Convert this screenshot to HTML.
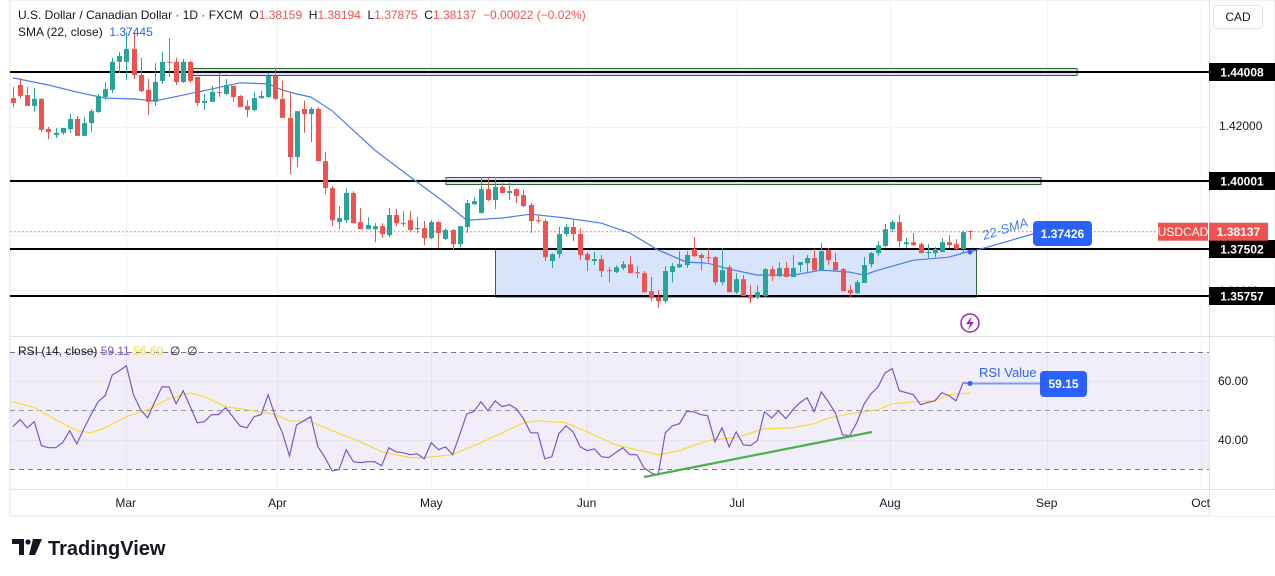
<!DOCTYPE html>
<html><head><meta charset="utf-8">
<style>
html,body{margin:0;padding:0;background:#fff;}
body{width:1275px;height:576px;overflow:hidden;position:relative;font-family:"Liberation Sans",sans-serif;}
svg{position:absolute;left:0;top:0;}
</style></head>
<body>
<svg id="chart" width="1275" height="576" viewBox="0 0 1275 576"></svg>
<script>
// ---- data (prices in pips, i.e. price*10000) ----
const opens=[14305,14353,14316,14276,14302,14191,14169,14177,14191,14228,14166,14213,14254,14309,14335,14438,14438,14486,14390,14335,14291,14368,14438,14438,14364,14438,14383,14287,14291,14327,14320,14350,14313,14276,14261,14305,14309,14386,14302,14232,14088,14265,14246,14265,14073,13974,13849,13856,13956,13849,13823,13823,13834,13801,13875,13845,13856,13823,13827,13790,13849,13787,13820,13768,13831,13915,13882,13970,13930,13978,13956,13970,13948,13912,13856,13853,13706,13731,13805,13831,13805,13731,13706,13713,13672,13665,13680,13694,13665,13661,13595,13573,13558,13665,13683,13691,13750,13728,13720,13720,13628,13683,13591,13639,13580,13573,13577,13676,13650,13680,13647,13691,13698,13717,13672,13746,13702,13676,13599,13588,13625,13694,13735,13761,13823,13849,13768,13775,13768,13735,13735,13739,13775,13768,13750,13815.9];
const highs=[14346,14379,14346,14342,14305,14199,14195,14195,14246,14239,14235,14265,14320,14364,14453,14475,14545,14545,14453,14375,14434,14475,14526,14453,14449,14442,14383,14320,14350,14397,14375,14350,14316,14298,14327,14331,14397,14416,14368,14324,14257,14294,14272,14272,14107,13981,13908,13974,13963,13901,13867,13845,13845,13901,13897,13890,13890,13867,13853,13856,13853,13827,13823,13834,13930,13941,14015,14015,14007,13993,13993,13974,13967,13919,13875,13860,13735,13831,13842,13856,13827,13739,13739,13728,13683,13691,13706,13724,13687,13669,13647,13599,13687,13698,13742,13742,13794,13735,13750,13724,13753,13691,13661,13654,13617,13617,13680,13687,13702,13702,13728,13702,13728,13750,13772,13753,13735,13680,13617,13636,13720,13739,13779,13842,13856,13875,13790,13809,13775,13768,13757,13790,13801,13786,13816,13819.4];
const lows=[14272,14305,14276,14254,14180,14154,14158,14169,14177,14166,14166,14180,14250,14298,14324,14397,14372,14375,14327,14243,14276,14357,14383,14353,14361,14361,14276,14261,14291,14309,14316,14291,14272,14235,14257,14302,14305,14298,14232,14026,14051,14177,14143,14073,13952,13834,13823,13845,13845,13823,13823,13775,13790,13794,13834,13831,13812,13809,13764,13787,13753,13783,13746,13757,13809,13912,13882,13926,13897,13956,13930,13919,13904,13809,13845,13706,13680,13717,13797,13779,13709,13669,13691,13647,13628,13661,13672,13661,13643,13591,13558,13533,13551,13628,13680,13680,13720,13672,13702,13617,13617,13591,13584,13577,13551,13566,13573,13632,13647,13647,13647,13665,13665,13672,13672,13691,13672,13595,13573,13584,13625,13683,13724,13757,13812,13757,13753,13761,13735,13717,13720,13739,13753,13746,13735,13787.5];
const closes=[14287,14313,14276,14302,14188,14180,14177,14195,14228,14166,14213,14257,14313,14338,14438,14460,14486,14390,14331,14291,14364,14438,14434,14364,14438,14368,14287,14294,14327,14324,14353,14309,14272,14261,14305,14313,14386,14302,14232,14088,14257,14246,14265,14073,13974,13856,13864,13956,13845,13823,13838,13834,13805,13875,13845,13843,13820,13827,13790,13849,13809,13820,13768,13834,13919,13926,13970,13930,13978,13956,13963,13945,13908,13853,13853,13720,13731,13805,13831,13805,13728,13709,13713,13669,13669,13683,13694,13661,13663,13591,13569,13558,13669,13687,13694,13728,13724,13717,13717,13628,13672,13591,13639,13577,13569,13591,13676,13650,13680,13647,13680,13702,13717,13672,13742,13709,13672,13595,13588,13628,13691,13735,13764,13823,13849,13779,13775,13764,13735,13739,13750,13775,13764,13750,13812,13813.7];
const smaIdx=[0,5,9,13,17,20,24,28,32,36,38,40,42,45,51,57,61,64,69,73,78,83,87,91,95,98,101,105,110,114,118,120,122,127,132,135];
const smaVals=[14379,14353,14327,14305,14302,14294,14316,14338,14361,14357,14335,14320,14309,14258,14114,13996,13919,13856,13864,13878,13864,13845,13809,13746,13702,13698,13676,13654,13654,13672,13665,13654,13672,13709,13720,13742.6];
const rsiVals=[44.4,46.8,44.0,46.1,37.9,37.2,37.2,38.9,43.0,38.5,43.7,48.5,52.9,55.0,62.1,63.5,65.2,55.3,50.2,47.4,52.9,58.0,58.0,52.2,56.7,51.2,45.7,46.1,48.5,48.5,50.9,47.8,44.7,44.0,47.8,48.5,55.3,47.8,42.3,34.4,45.0,46.4,47.8,37.5,33.8,29.3,29.7,36.5,32.4,32.1,32.4,32.4,31.0,37.2,35.8,35.5,34.8,35.1,33.4,38.9,36.5,37.5,34.8,41.6,48.8,49.5,52.9,49.8,53.2,51.2,51.9,50.5,47.1,42.3,42.3,33.4,34.1,42.0,44.7,42.6,37.5,36.2,36.8,34.1,33.8,35.5,37.2,34.8,34.8,30.3,28.6,27.9,42.3,44.7,45.4,49.5,49.5,48.5,48.1,39.2,44.0,37.5,42.6,38.2,37.9,39.6,49.5,47.4,49.8,47.1,50.2,52.6,54.3,49.5,56.3,52.9,49.1,41.6,41.3,45.7,51.9,55.6,58.0,62.8,64.2,56.7,56.0,55.3,51.9,52.6,53.2,56.0,55.0,53.2,59.4,59.15];
const maIdx=[0,3,6,9,11,13,16,19,22,25,27,30,34,37,39,42,46,49,52,56,58,62,66,69,72,74,78,81,85,88,91,94,98,102,106,110,113,115,118,122,124,127,130,132,135];
const maVals=[52.9,50.9,46.8,43.0,42.3,44.0,47.8,50.2,53.9,55.9,54.6,51.2,49.8,48.5,46.4,46.1,42.0,39.2,35.8,33.8,33.8,34.8,38.9,42.3,45.7,46.4,45.7,42.6,38.2,36.5,34.8,36.2,39.6,40.7,43.7,44.0,45.4,47.4,48.8,50.2,52.2,52.9,53.2,55.3,56.0];
const levels=[1.44008,1.40001,1.37502,1.35757];
const months=["Mar","Apr","May","Jun","Jul","Aug","Sep","Oct"];
const monthIdx=[15.9,37.3,59.0,80.9,102.1,123.7,145.8,167.5];

// ---- axes ----
const X0=13, DX=7.09;
const xAt=i=>X0+i*DX;
const yP=p=>72+(1.44008-p)*2720;
const yPip=v=>yP(v/10000);
const yR=v=>381+(60-v)*2.925;

const NS="http://www.w3.org/2000/svg";
const svg=document.getElementById('chart');
function mk(tag,attrs,parent){const e=document.createElementNS(NS,tag);for(const k in attrs)e.setAttribute(k,attrs[k]);(parent||svg).appendChild(e);return e;}
function txt(s,attrs,parent){const e=mk('text',attrs,parent);e.textContent=s;return e;}

let e;
e=mk('rect',{x:10,y:0,width:1265,height:516,fill:'#fff',stroke:'#e0e3eb'});

const grid=mk('g',{stroke:'#f0f3fa','stroke-width':1});

monthIdx.forEach(m=>{const x=Math.round(xAt(m))+0.5;mk('line',{x1:x,x2:x,y1:0,y2:489},grid);});
[1.44,1.42,1.40,1.38,1.36].forEach(p=>{const y=Math.round(yP(p))+0.5;mk('line',{x1:10,x2:1209,y1:y,y2:y},grid);});
[60,40].forEach(v=>{const y=Math.round(yR(v))+0.5;mk('line',{x1:10,x2:1209,y1:y,y2:y},grid);});
mk('line',{x1:1209.5,x2:1209.5,y1:0,y2:516,stroke:'#e0e3eb'});
mk('line',{x1:10,x2:1275,y1:336.5,y2:336.5,stroke:'#e0e3eb'});
mk('line',{x1:10,x2:1275,y1:489.5,y2:489.5,stroke:'#e0e3eb'});

e=mk('rect',{x:193,y:68.5,width:884,height:7,fill:'#d6e1f5',stroke:'#2e6b2e','stroke-width':1});

e=mk('rect',{x:446,y:177.5,width:595,height:7,fill:'#d6e1f5',stroke:'#2e6b2e','stroke-width':1});

e=mk('rect',{x:495.5,y:249.5,width:481,height:47.5,fill:'#d8e4fb',stroke:'#2e6b2e','stroke-width':1});


levels.forEach((p,k)=>{const y=Math.round(yP(p));
 const l=mk('line',{x1:10,x2:1209,y1:y,y2:y,stroke:'#000','stroke-width':2});
 });
txt('1.36000',{x:1219,y:294,'font-size':11,fill:'#333'});
mk('line',{x1:10,x2:1209,y1:yPip(closes[closes.length-1]),y2:yPip(closes[closes.length-1]),stroke:'#ef5350','stroke-dasharray':'1.5 2.5','stroke-width':1});

let d='';smaIdx.forEach((i,k)=>{d+=(k?'L':'M')+xAt(i).toFixed(1)+' '+yPip(smaVals[k]).toFixed(1);});
e=mk('path',{d:d,fill:'none',stroke:'#4a7cf0','stroke-width':1.2});


const cg=mk('g',{});

opens.forEach((o,i)=>{
 const c=closes[i],up=c>=o,col=up?'#26a69a':'#ef5350',x=Math.round(xAt(i));
 const g=mk('g',{},cg);
 
 
 mk('line',{x1:x+0.5,x2:x+0.5,y1:yPip(highs[i]),y2:yPip(lows[i]),stroke:col,'stroke-width':1},g);
 const t=yPip(Math.max(o,c)),b=yPip(Math.min(o,c));
 mk('rect',{x:x-2,y:t,width:5,height:Math.max(1,b-t),fill:col},g);
});

const lastSma=smaVals[smaVals.length-1];
mk('line',{x1:970,y1:yPip(lastSma)+1,x2:1033,y2:234,stroke:'#4a7cf0','stroke-width':1.2});
mk('circle',{cx:970,cy:yPip(lastSma)+1,r:2.5,fill:'#2962ff'});
e=txt('22-SMA',{x:984,y:240,'font-size':13,fill:'#4a7cf0','font-style':'italic',transform:'rotate(-17 984 240)'});

e=mk('rect',{x:1033,y:221,width:59,height:25,rx:4,fill:'#2962ff'});

txt((lastSma/10000).toFixed(5),{x:1062.5,y:238,'font-size':12,fill:'#fff','text-anchor':'middle','font-weight':'bold'});

levels.forEach(p=>{const y=Math.round(yP(p));
 const r=mk('rect',{x:1209,y:y-9,width:66,height:18,fill:'#000'});
 
 txt(p.toFixed(5),{x:1242,y:y+4.5,'font-size':12,'font-weight':'bold',fill:'#fff','text-anchor':'middle'});});
txt('1.42000',{x:1219,y:130,'font-size':12,fill:'#131722'});
const cy=yPip(closes[closes.length-1]);
e=mk('rect',{x:1158,y:cy-9,width:50,height:18,fill:'#ef5350'});

txt('USDCAD',{x:1183,y:cy+4.5,'font-size':12,fill:'#fff','text-anchor':'middle'});
e=mk('rect',{x:1209,y:cy-9,width:59,height:18,fill:'#ef5350'});

txt((closes[closes.length-1]/10000).toFixed(5),{x:1238.5,y:cy+4.5,'font-size':12,'font-weight':'bold',fill:'#fff','text-anchor':'middle'});
e=mk('rect',{x:1213.5,y:5.5,width:49,height:23,rx:3,fill:'#fff',stroke:'#e0e3eb'});

txt('CAD',{x:1238,y:21,'font-size':12,fill:'#131722','text-anchor':'middle'});

e=txt('',{x:18,y:19,'font-size':12,fill:'#131722'});

e.innerHTML='U.S. Dollar / Canadian Dollar · 1D · FXCM &#160;O<tspan fill="#ef5350">1.38159</tspan> &#160;H<tspan fill="#ef5350">1.38194</tspan> &#160;L<tspan fill="#ef5350">1.37875</tspan> &#160;C<tspan fill="#ef5350">1.38137</tspan> &#160;<tspan fill="#ef5350">−0.00022 (−0.02%)</tspan>';
e=txt('',{x:18,y:36,'font-size':12,fill:'#131722'});

e.innerHTML='SMA (22, close) &#160;<tspan fill="#2962ff">1.37445</tspan>';

e=mk('circle',{cx:970,cy:323,r:9,fill:'none',stroke:'#9c27b0','stroke-width':1.5});

mk('path',{d:'M972 316 L966 324 L970 324 L968 330 L974 322 L970 322 Z',fill:'#9c27b0'});

e=mk('rect',{x:10,y:yR(70),width:1199,height:yR(30)-yR(70),fill:'#7e57c2','fill-opacity':0.1});

[70,50,30].forEach(v=>{const y=Math.round(yR(v))+0.5;mk('line',{x1:10,x2:1209,y1:y,y2:y,stroke:v==50?'#9598a1':'#787b86','stroke-dasharray':'5 4','stroke-width':1});});
d='';maIdx.forEach((i,k)=>{d+=(k?'L':'M')+xAt(i).toFixed(1)+' '+yR(maVals[k]).toFixed(1);});
e=mk('path',{d:d,fill:'none',stroke:'#fdd835','stroke-width':1.2});

d='';rsiVals.forEach((v,i)=>{d+=(i?'L':'M')+xAt(i).toFixed(1)+' '+yR(v).toFixed(1);});
e=mk('path',{d:d,fill:'none',stroke:'#7e57c2','stroke-width':1.2});

e=mk('line',{x1:644,y1:477,x2:872,y2:432,stroke:'#4caf50','stroke-width':2.2});

const lr=rsiVals[rsiVals.length-1];
mk('line',{x1:970,y1:yR(lr),x2:1040,y2:yR(lr),stroke:'#7b9cff','stroke-width':2});
mk('circle',{cx:970,cy:yR(lr),r:2.5,fill:'#2962ff'});
e=txt('RSI Value',{x:979,y:377,'font-size':13,fill:'#2962ff'});

e=mk('rect',{x:1040,y:371,width:47,height:26,rx:4,fill:'#2962ff'});

txt(lr.toFixed(2),{x:1063.5,y:388,'font-size':12,'font-weight':'bold',fill:'#fff','text-anchor':'middle'});
e=txt('',{x:18,y:355,'font-size':12,fill:'#131722'});

e.innerHTML='RSI (14, close) <tspan fill="#7e57c2">59.11</tspan> <tspan fill="#fdd835">56.60</tspan> &#160;∅ &#160;∅';
txt('60.00',{x:1218,y:385,'font-size':12,fill:'#131722'});
txt('40.00',{x:1218,y:444,'font-size':12,fill:'#131722'});

months.forEach((m,k)=>{
 const t=txt(m,{x:xAt(monthIdx[k]),y:507,'font-size':12,fill:'#131722','text-anchor':'middle'});
 
 
});
mk('rect',{x:1210,y:490,width:65,height:26,fill:'#fff'});

e=mk('g',{});

mk('path',{d:'M12 539 H24 V555 H19 V544 H12 Z',fill:'#131722'},e);
mk('circle',{cx:28,cy:542,r:2.6,fill:'#131722'},e);
mk('path',{d:'M33 539 H42 L35 555 H29 Z',fill:'#131722'},e);
txt('TradingView',{x:48,y:555,'font-size':20,'font-weight':'bold',fill:'#131722'},e);
</script>
</body></html>
